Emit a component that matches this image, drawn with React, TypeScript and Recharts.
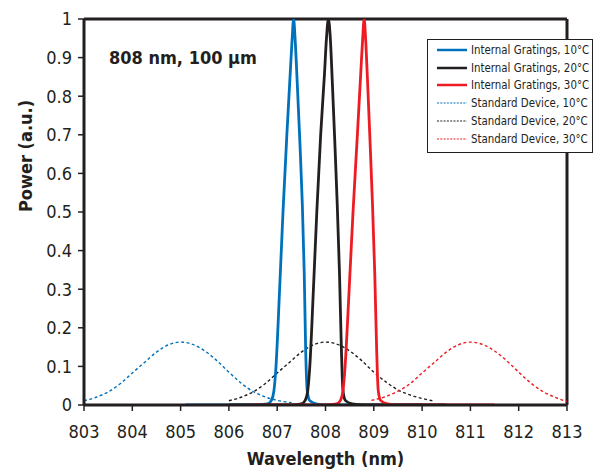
import React from "react";
import { LineChart, Line, XAxis, YAxis, ReferenceLine } from "recharts";

const FONT = "'Liberation Sans Narrow', 'DejaVu Sans Condensed', 'Liberation Sans', sans-serif";

const xTicks = [803, 804, 805, 806, 807, 808, 809, 810, 811, 812, 813];
const yTicks = [0, 0.1, 0.2, 0.3, 0.4, 0.5, 0.6, 0.7, 0.8, 0.9, 1];
const yTickLabels = ["0", "0.1", "0.2", "0.3", "0.4", "0.5", "0.6", "0.7", "0.8", "0.9", "1"];

// internal gratings (narrow peaks)
const grating10X = [805.1, 806.5, 806.8, 806.88, 806.93, 806.97, 807.05, 807.12, 807.2, 807.27, 807.31, 807.34, 807.37, 807.42, 807.47, 807.52, 807.56, 807.59, 807.62, 807.67, 807.8, 808.0, 810.0];
const grating10Y = [0, 0, 0.003, 0.012, 0.035, 0.09, 0.3, 0.5, 0.7, 0.86, 0.95, 1.0, 0.95, 0.82, 0.68, 0.52, 0.34, 0.14, 0.04, 0.012, 0.003, 0, 0];

const grating20X = [806.0, 807.3, 807.5, 807.58, 807.63, 807.67, 807.75, 807.82, 807.9, 807.98, 808.02, 808.06, 808.1, 808.14, 808.19, 808.24, 808.29, 808.33, 808.36, 808.41, 808.55, 808.8, 810.5];
const grating20Y = [0, 0, 0.003, 0.012, 0.035, 0.09, 0.3, 0.5, 0.7, 0.86, 0.95, 1.0, 0.95, 0.84, 0.69, 0.53, 0.34, 0.14, 0.04, 0.012, 0.003, 0, 0];

const grating30X = [806.5, 808.0, 808.23, 808.31, 808.36, 808.4, 808.49, 808.57, 808.66, 808.73, 808.77, 808.8, 808.83, 808.87, 808.92, 808.97, 809.02, 809.06, 809.09, 809.14, 809.28, 809.5, 811.5];
const grating30Y = [0, 0, 0.003, 0.012, 0.035, 0.09, 0.3, 0.5, 0.7, 0.86, 0.95, 1.0, 0.95, 0.84, 0.69, 0.53, 0.34, 0.14, 0.04, 0.012, 0.003, 0, 0];

// standard devices (broad spectra)
const standard10X = [803.0, 803.25, 803.5, 803.75, 804.0, 804.25, 804.5, 804.75, 805.0, 805.25, 805.5, 805.75, 806.0, 806.25, 806.5, 806.75, 807.0, 807.3];
const standard10Y = [0.011, 0.02, 0.034, 0.055, 0.083, 0.11, 0.137, 0.156, 0.163, 0.157, 0.14, 0.115, 0.085, 0.057, 0.035, 0.021, 0.012, 0.006];

const standard20X = [806.0, 806.25, 806.5, 806.75, 807.0, 807.25, 807.5, 807.75, 808.0, 808.25, 808.5, 808.75, 809.0, 809.25, 809.5, 809.75, 810.0, 810.25];
const standard20Y = [0.011, 0.02, 0.034, 0.055, 0.083, 0.11, 0.137, 0.156, 0.163, 0.157, 0.14, 0.115, 0.085, 0.06, 0.039, 0.026, 0.017, 0.01];

const standard30X = [808.95, 809.25, 809.5, 809.75, 810.0, 810.25, 810.5, 810.75, 811.0, 811.25, 811.5, 811.75, 812.0, 812.25, 812.5, 812.75, 813.0];
const standard30Y = [0.012, 0.022, 0.036, 0.055, 0.083, 0.11, 0.137, 0.156, 0.163, 0.157, 0.14, 0.115, 0.085, 0.057, 0.035, 0.02, 0.009];

const zip = (xs: number[], ys: number[]) => xs.map((x, i) => ({ x, y: ys[i] }));

const BLUE = "#0072BC";
const BLACK = "#231F20";
const RED = "#ED1C24";

const series = [
  { name: "Internal Gratings, 10°C", color: BLUE, dashed: false, data: zip(grating10X, grating10Y) },
  { name: "Internal Gratings, 20°C", color: BLACK, dashed: false, data: zip(grating20X, grating20Y) },
  { name: "Internal Gratings, 30°C", color: RED, dashed: false, data: zip(grating30X, grating30Y) },
  { name: "Standard Device, 10°C", color: BLUE, dashed: true, data: zip(standard10X, standard10Y) },
  { name: "Standard Device, 20°C", color: BLACK, dashed: true, data: zip(standard20X, standard20Y) },
  { name: "Standard Device, 30°C", color: RED, dashed: true, data: zip(standard30X, standard30Y) },
];

export default function App() {
  const drawOrder = [...series.filter((s) => s.dashed), ...series.filter((s) => !s.dashed)];
  return (
    <div style={{ position: "absolute", left: 0, top: 0, width: 604, height: 472, background: "#fff", fontFamily: FONT }}>
      <LineChart width={604} height={472} margin={{ top: 19, right: 37, left: 0, bottom: 0 }}>
        <XAxis
          dataKey="x"
          type="number"
          domain={[803, 813]}
          ticks={xTicks}
          allowDataOverflow
          stroke={BLACK}
          strokeWidth={3}
          tickSize={6}
          tickMargin={14}
          height={67}
          tick={{ fill: BLACK, fontSize: 18, fontFamily: FONT }}
          tickLine={{ stroke: BLACK, strokeWidth: 1.5 }}
          label={{ value: "Wavelength (nm)", position: "insideBottom", offset: 7, fill: BLACK, fontSize: 18, fontWeight: 700, fontFamily: FONT }}
        />
        <YAxis
          dataKey="y"
          type="number"
          domain={[0, 1]}
          ticks={yTicks}
          tickFormatter={(v: number) => yTickLabels[yTicks.indexOf(v)] ?? String(v)}
          allowDataOverflow
          width={84}
          stroke={BLACK}
          strokeWidth={3}
          tickSize={6}
          tickMargin={6}
          tick={{ fill: BLACK, fontSize: 18, fontFamily: FONT }}
          tickLine={{ stroke: BLACK, strokeWidth: 1.5 }}
          label={{ value: "Power (a.u.)", angle: -90, position: "insideLeft", offset: 26, fill: BLACK, fontSize: 18, fontWeight: 700, fontFamily: FONT }}
        />
        <ReferenceLine y={1} stroke={BLACK} strokeWidth={3} ifOverflow="visible" />
        <ReferenceLine x={813} stroke={BLACK} strokeWidth={3} ifOverflow="visible" />
        {drawOrder.map((s) => (
          <Line
            key={s.name}
            data={s.data}
            dataKey="y"
            name={s.name}
            type="monotone"
            stroke={s.color}
            strokeWidth={s.dashed ? 1.4 : 2.8}
            strokeDasharray={s.dashed ? "3 2.5" : undefined}
            dot={false}
            activeDot={false}
            isAnimationActive={false}
          />
        ))}
      </LineChart>
      <div style={{ position: "absolute", left: 109, top: 47, fontSize: 18, fontWeight: 700, color: BLACK, whiteSpace: "nowrap" }}>
        808 nm, 100 µm
      </div>
      <div
        style={{
          position: "absolute",
          left: 427,
          top: 39,
          width: 164,
          padding: "1px 0 4px 0",
          background: "#fff",
          border: "1px solid #231F20",
          fontSize: 11.4,
          color: BLACK,
        }}
      >
        {series.map((s) => (
          <div key={s.name} style={{ display: "flex", alignItems: "center", height: 17.8, whiteSpace: "nowrap" }}>
            <svg width={43} height={10} style={{ flex: "none" }}>
              <line
                x1={9}
                x2={39}
                y1={5}
                y2={5}
                stroke={s.color}
                strokeWidth={s.dashed ? 1 : 2.5}
                strokeDasharray={s.dashed ? "2 1.3" : undefined}
              />
            </svg>
            <span>{s.name}</span>
          </div>
        ))}
      </div>
    </div>
  );
}
